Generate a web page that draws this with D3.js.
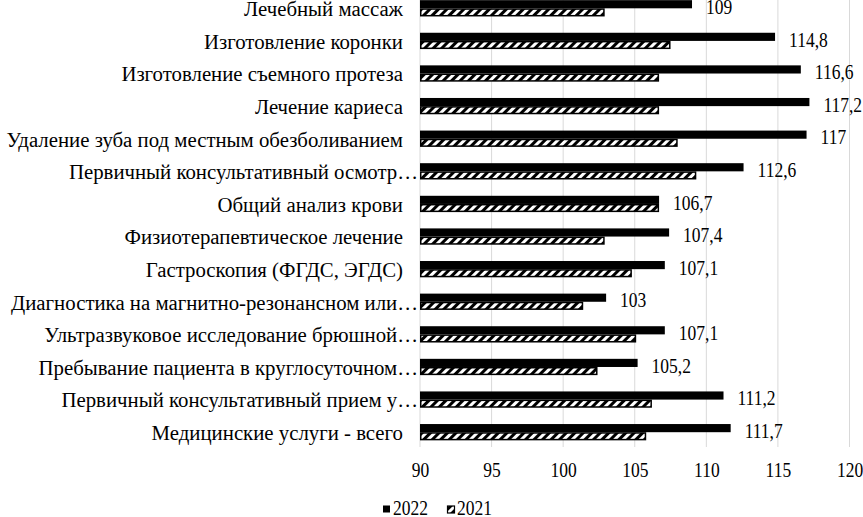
<!DOCTYPE html>
<html><head><meta charset="utf-8">
<script src="https://cdn.jsdelivr.net/npm/d3@7"></script>
<style>
html,body{margin:0;padding:0;background:#fff;}
text{font-family:"Liberation Serif","Times New Roman",serif;fill:#000;}
</style></head>
<body><svg id="chart" width="863" height="517"></svg>
<script>
const categories = [
  "Лечебный массаж",
  "Изготовление коронки",
  "Изготовление съемного протеза",
  "Лечение кариеса",
  "Удаление зуба под местным обезболиванием",
  "Первичный консультативный осмотр…",
  "Общий анализ крови",
  "Физиотерапевтическое лечение",
  "Гастроскопия (ФГДС, ЭГДС)",
  "Диагностика на магнитно-резонансном или…",
  "Ультразвуковое исследование брюшной…",
  "Пребывание пациента в круглосуточном…",
  "Первичный консультативный прием у…",
  "Медицинские услуги - всего"
];
const values2022 = [109, 114.8, 116.6, 117.2, 117, 112.6, 106.7, 107.4, 107.1, 103, 107.1, 105.2, 111.2, 111.7];
const values2021 = [102.9, 107.5, 106.7, 106.7, 108.0, 109.3, 106.7, 102.9, 104.8, 101.4, 105.1, 102.4, 106.2, 105.8];
const seriesNames = ["2022", "2021"];
const xTicks = [90, 95, 100, 105, 110, 115, 120];

const svg = d3.select("#chart");
const numFs = 17.5, catFs = 20.8, sy = 1.17;

const x = d3.scaleLinear().domain([90, 120]).range([420, 849.5]);
const y = d3.scaleBand().domain(categories).range([-8, 448.5]).padding(0);
const sub = d3.scaleBand().domain(seriesNames).range([0, y.bandwidth()]).paddingInner(0).paddingOuter(1);

const defs = svg.append("defs");
const pat = defs.append("pattern").attr("id", "hatch")
  .attr("patternUnits", "userSpaceOnUse").attr("width", 6).attr("height", 6)
  .attr("patternTransform", "rotate(45)");
pat.append("rect").attr("width", 6).attr("height", 6).attr("fill", "#000");
pat.append("rect").attr("width", 3).attr("height", 6).attr("fill", "#fff");

// gridlines
svg.append("g").selectAll("line").data(xTicks).join("line")
  .attr("x1", d => x(d)).attr("x2", d => x(d))
  .attr("y1", 0).attr("y2", 447)
  .attr("stroke", "#d9d9d9").attr("stroke-width", 1);

// x axis labels
const xAxis = d3.axisBottom(x).tickValues(xTicks).tickSize(0).tickPadding(0).tickFormat(d3.format("d"));
const gx = svg.append("g").call(xAxis);
gx.select(".domain").remove();
gx.selectAll("text").attr("font-size", numFs).attr("font-family", "Liberation Serif").attr("fill", "#000")
  .attr("y", 0).attr("dy", null)
  .attr("transform", `translate(0,477) scale(1,${sy})`);

const rows = categories.map((c, i) => ({c, v22: values2022[i], v21: values2021[i]}));

// bars 2022
svg.append("g").selectAll("rect").data(rows).join("rect")
  .attr("x", x(90)).attr("y", d => y(d.c) + sub("2022"))
  .attr("width", d => x(d.v22) - x(90)).attr("height", sub.bandwidth())
  .attr("fill", "#000");
// bars 2021
svg.append("g").selectAll("rect").data(rows).join("rect")
  .attr("x", x(90) + 0.75).attr("y", d => y(d.c) + sub("2021") + 0.75)
  .attr("width", d => x(d.v21) - x(90) - 1.5).attr("height", sub.bandwidth() - 1.5)
  .attr("fill", "url(#hatch)").attr("stroke", "#000").attr("stroke-width", 1.5);

// value labels
svg.append("g").selectAll("text").data(rows).join("text")
  .attr("transform", d => `translate(${x(d.v22) + 14},${y(d.c) + y.bandwidth() / 2 + 5.6}) scale(1,${sy})`)
  .attr("font-size", numFs)
  .text(d => String(d.v22).replace(".", ","));

// category labels
svg.append("g").selectAll("text").data(rows).join("text")
  .attr("x", d => d.c.endsWith("…") ? 418 : 403)
  .attr("y", d => y(d.c) + y.bandwidth() / 2 + 7.8)
  .attr("font-size", catFs).attr("text-anchor", "end")
  .text(d => d.c);

// legend
const lg = svg.append("g");
lg.append("rect").attr("x", 383).attr("y", 505.5).attr("width", 7).attr("height", 7).attr("fill", "#000");
lg.append("text").attr("transform", `translate(393,515) scale(1,${sy})`).attr("font-size", numFs).text(seriesNames[0]);
lg.append("rect").attr("x", 447.5).attr("y", 506).attr("width", 7).attr("height", 7)
  .attr("fill", "url(#hatch)").attr("stroke", "#000").attr("stroke-width", 1.2);
lg.append("text").attr("transform", `translate(457,515) scale(1,${sy})`).attr("font-size", numFs).text(seriesNames[1]);
</script></body></html>
